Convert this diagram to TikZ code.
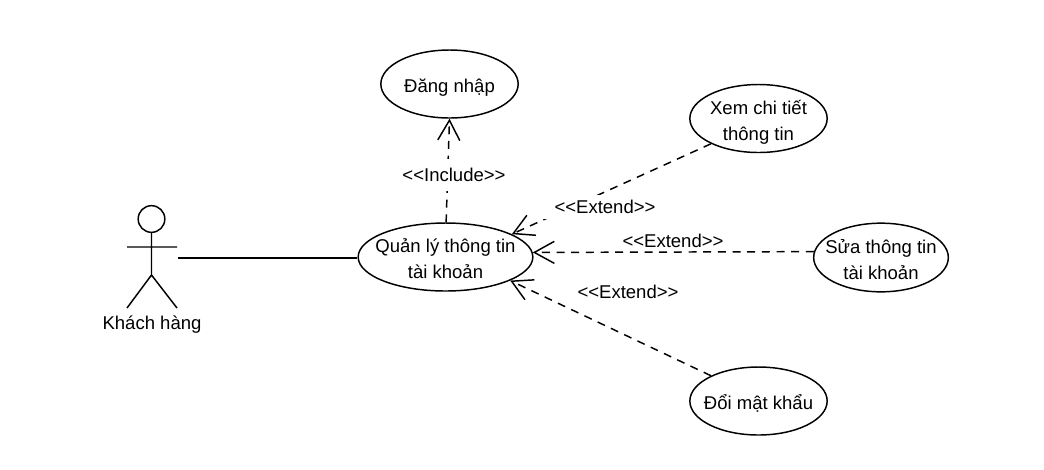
\documentclass[tikz,border=0pt]{standalone}
\usepackage{fontspec}
\setmainfont{Liberation Sans}
\usetikzlibrary{arrows.meta,shapes.geometric}
\newcommand\ustr{\rule{0pt}{18pt}}
\newcommand\udep{\rule[-5pt]{0pt}{5pt}}
\tikzset{
 x=0.75pt,y=-0.75pt,
 uc/.style={draw,ellipse,line width=1.1pt,inner xsep=-12pt,inner ysep=-6pt,align=center,font=\fontsize{13.9pt}{19.3pt}\selectfont},
 lbl/.style={inner sep=0pt,font=\fontsize{13.9pt}{15pt}\selectfont},
 dep/.style={draw,dash pattern=on 6pt off 5pt,line width=1.1pt,-{Straight Barb[length=15pt,width=16.5pt,line width=1.1pt]}},
}
\begin{document}
\begin{tikzpicture}
\useasboundingbox (0,0) rectangle (1044,469);
\fill[white] (0,0) rectangle (1044,469);
\node[uc,minimum width=103pt,minimum height=51pt] (login) at (449.5,84) {\ustr Đăng nhập\udep};
\node[uc,minimum width=131pt,minimum height=51pt] (manage) at (445.5,257) {\ustr Quản lý thông tin\\tài khoản\udep};
\node[uc,minimum width=103pt,minimum height=51pt] (view) at (758.5,118.5) {\ustr Xem chi tiết\\thông tin\udep};
\node[uc,minimum width=101pt,minimum height=51.5pt] (edit) at (881,257.5) {\ustr Sửa thông tin\\tài khoản\udep};
\node[uc,minimum width=103pt,minimum height=51pt] (pass) at (758.5,401) {\ustr Đổi mật khẩu\udep};
\node[draw,circle,line width=1.1pt,minimum size=20pt,inner sep=0pt] (head) at (151.5,219) {};
\coordinate (hip) at (151.5,275);
\coordinate (armL) at (127,247);
\coordinate (armR) at (177,247);
\coordinate (legL) at (127,308);
\coordinate (legR) at (177,308);
\coordinate (assoc) at (178,258);
\draw[line width=1.1pt] (head.south) -- (hip) (armL) -- (armR) (legL) -- (hip) -- (legR);
\node[lbl] (actor) at (152,323) {\rule{0pt}{13pt}Khách hàng};
\draw[line width=1.1pt] (assoc) -- (manage.west |- assoc);
\path[dep] (manage.89) -- (login.south);
\path[dep] (view.208) -- (manage.19.6);
\path[dep] (edit.175) -- (manage.3.5);
\path[dep] (pass.152.7) -- (manage.340.6);
\node[lbl,fill=white,inner xsep=2pt,inner ysep=7pt] (l1) at (454,175) {<{}<Include>{}>};
\node[lbl,fill=white,inner xsep=11pt,inner ysep=4pt] (l2) at (605,207) {<{}<Extend>{}>};
\node[lbl] (l3) at (673,241) {<{}<Extend>{}>};
\node[lbl] (l4) at (628,292) {<{}<Extend>{}>};
\end{tikzpicture}
\end{document}
